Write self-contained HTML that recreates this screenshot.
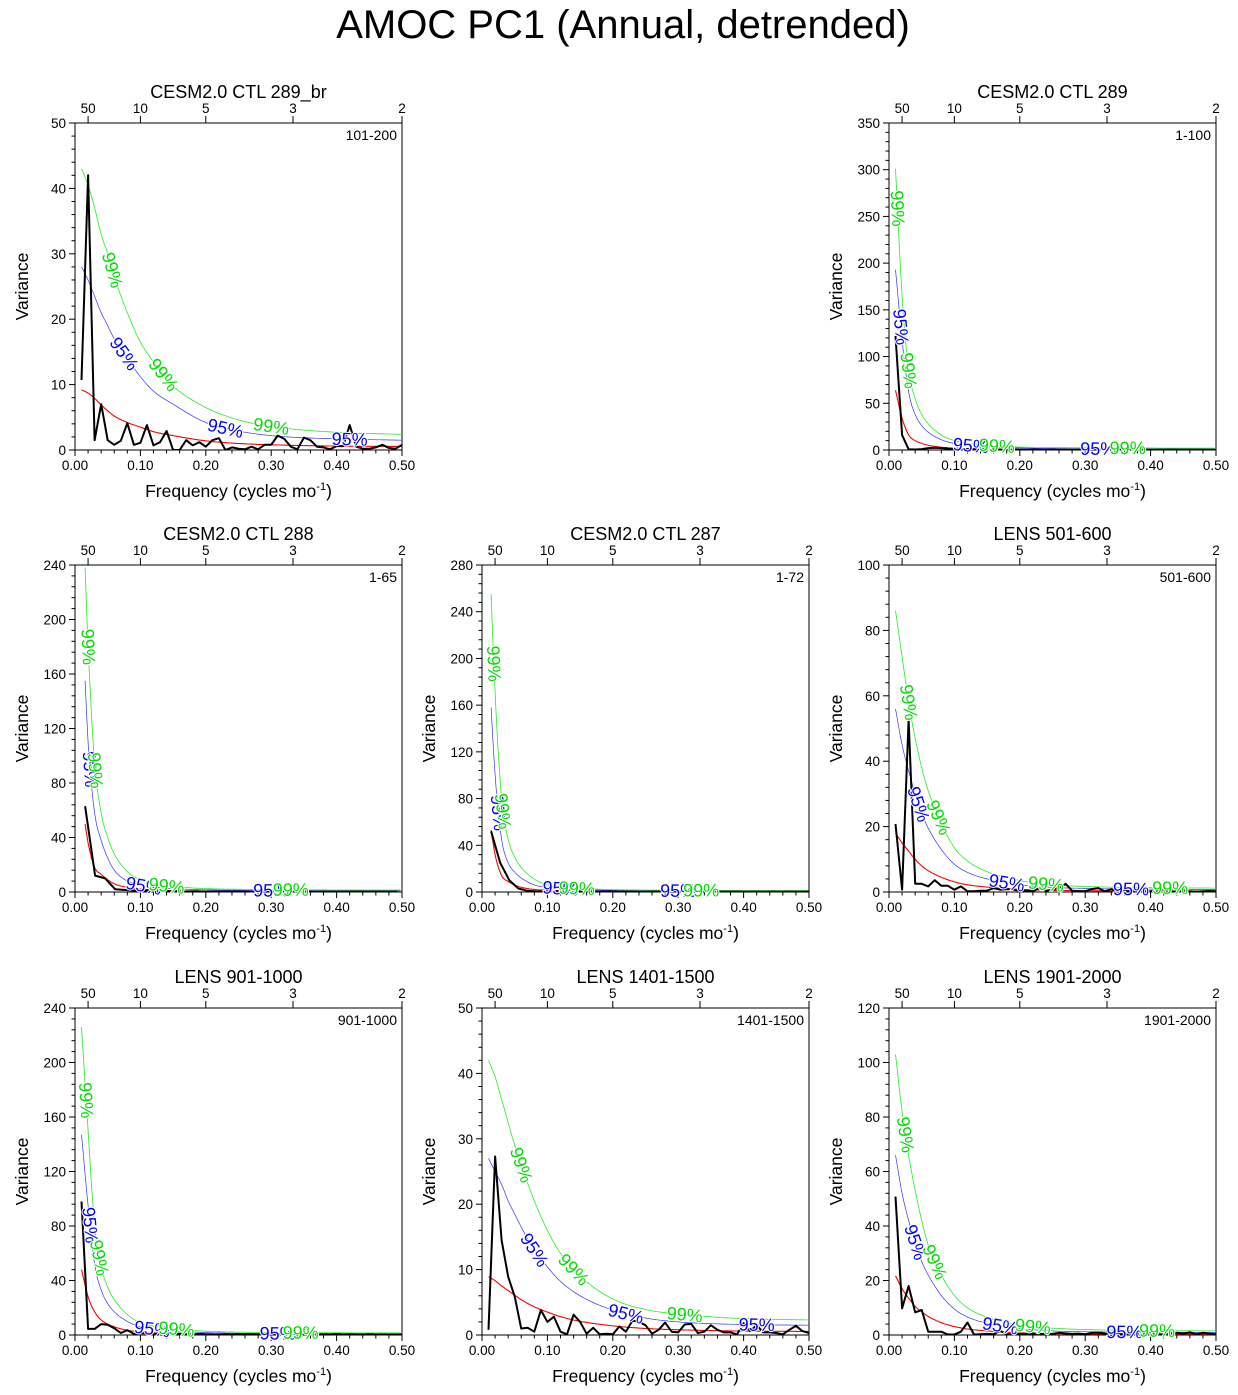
<!DOCTYPE html>
<html><head><meta charset="utf-8">
<style>
html,body{margin:0;padding:0;background:#fff;}
svg{display:block;font-family:"Liberation Sans",Arial,sans-serif;}
</style></head>
<body>
<svg id="fig" width="1238" height="1395" viewBox="0 0 1238 1395" xmlns="http://www.w3.org/2000/svg">
<text x="623" y="38" font-size="40" text-anchor="middle">AMOC PC1 (Annual, detrended)</text>
</svg>
<script>
// curve sample frequencies (first replaced by 1/N)
const curveFreq = [0,0.02,0.03,0.04,0.05,0.06,0.08,0.1,0.12,0.15,0.2,0.25,0.3,0.4,0.5];
const periodTicks = [50,10,5,3,2];
const xTicks = [0,0.1,0.2,0.3,0.4,0.5];

const titles = ["CESM2.0 CTL 289_br","CESM2.0 CTL 289","CESM2.0 CTL 288","CESM2.0 CTL 287","LENS 501-600","LENS 901-1000","LENS 1401-1500","LENS 1901-2000"];
const tags = ["101-200","1-100","1-65","1-72","501-600","901-1000","1401-1500","1901-2000"];
const recordLen = [100,100,65,72,100,100,100,100];
const yMax = [50,350,240,280,100,240,50,120];
const yStep = [10,50,40,40,20,40,10,20];

const redA=[9.2,8.7,7.9,6.9,6.0,5.2,4.2,3.5,2.8,2.2,1.4,1.0,0.8,0.6,0.55];
const blueA=[28,26,23.5,21,19,17,14,11.2,9,7,4.2,2.9,2.2,1.7,1.5];
const greenA=[43,40.5,37,33,30,26.5,21,16.5,13.5,9.8,6.5,4.6,3.6,2.7,2.4];
const specA=[10.7,42,1.5,7,1.5,0.8,1.4,4.1,0.8,1.1,3.8,0.7,1.2,2.9,0,0,1.5,0.7,1.2,0.5,1.5,1.8,0,0.4,0.2,0.1,0.5,0.1,0.8,0.8,2.2,1.7,0.5,0.1,1.9,1.5,0.5,0.4,0.1,0.6,0.6,3.8,0.5,0.2,0.2,0.4,0.8,0.3,0.2,0.8];

const redB=[64,34,16,10,7,5,3,2,1.5,1.0,0.6,0.4,0.35,0.3,0.3];
const blueB=[193,118,62,38,26,19,11,7,5,3.5,2.2,1.6,1.3,1.1,1.0];
const greenB=[301,165,85,55,38,28,16,10,7,5,3.2,2.6,2.3,2.1,2];
const specB=[122,16,0.7,0.5,1,2,2.5,2,1.5,1,1.5,1,0.8,0.5,0.6,0.4,0.5,0.3,0.6,0.4,0.3,0.5,0.4,0.3,0.5,0.3,0.4,0.3,0.2,0.4,0.3,0.2,0.4,0.3,0.2,0.3,0.4,0.2,0.3,0.2,0.3,0.2,0.4,0.3,0.2,0.3,0.2,0.3,0.2,0.3];

const redC=[50,36,18,13,9,6,3.5,2.2,1.5,1.0,0.6,0.45,0.4,0.35,0.35];
const blueC=[155,110,58,38,25,16,8,5,3.5,2.5,1.6,1.3,1.1,1.0,1.0];
const greenC=[238,180,95,58,40,28,15,9,6,4,2.5,2,1.7,1.5,1.5];
const specC=[63,12,10,2,1.5,1,1,0.8,0.5,0.6,0.4,0.5,0.3,0.4,0.3,0.4,0.3,0.2,0.4,0.3,0.2,0.3,0.4,0.2,0.3,0.2,0.3,0.4,0.2,0.3,0.2,0.3];

const redD=[53,32,14,9,6,4,2.2,1.5,1.1,0.8,0.5,0.4,0.35,0.3,0.3];
const blueD=[158,100,45,25,17,12,6,4,3,2.2,1.4,1.1,1.0,0.9,0.9];
const greenD=[255,170,80,45,30,21,11,6,4,3,2,1.7,1.5,1.3,1.3];
const specD=[52,25,10,3,1,0.5,0.4,0.6,0.3,0.4,0.6,0.4,0.3,0.5,0.3,0.4,0.3,0.2,0.4,0.3,0.2,0.3,0.4,0.2,0.3,0.2,0.3,0.4,0.2,0.3,0.2,0.3,0.2,0.3,0.2,0.3];

const redE=[18,15,12.5,10,8,6.5,4.5,3.1,2.2,1.5,0.8,0.5,0.4,0.3,0.3];
const blueE=[56,45,37,30,24,19.5,13,8.5,6,4.0,2.2,1.4,1.1,0.85,0.8];
const greenE=[86,72,58,47,38,31,21,13.5,9.5,6.2,3.5,2.2,1.7,1.3,1.2];
const specE=[20.8,0.7,52.7,2.5,2.5,1.7,3.6,1.9,1.9,0.7,1.7,0.2,0.2,0.4,0.4,1.2,0.7,0.9,0.7,0.4,0.4,0.2,1.2,0.4,0.7,1.2,2.5,0.4,0.2,0.2,0.9,1.2,0.2,0.9,0.2,0.3,0.2,0.5,0.3,0.2,0.4,0.3,0.2,0.1,0.3,0.2,0.1,0.2,0.3,0.2];

const redF=[48,28,17,11,8,6,3.5,2.3,1.6,1.1,0.7,0.5,0.4,0.35,0.35];
const blueF=[147,95,52,33,23,17,10,6,4.3,3,1.8,1.3,1.1,1.0,1.0];
const greenF=[226,150,80,50,35,26,15,9,6.5,4.5,2.8,2.1,1.8,1.6,1.5];
const specF=[98,4.5,4.5,8,7.5,5,1.5,3.5,0.8,1.5,1,0.5,1.5,0.8,0.5,1,0.6,0.4,0.8,0.5,0.6,0.4,0.5,0.3,0.6,0.4,0.5,0.3,0.4,0.6,0.3,0.5,0.4,0.3,0.5,0.4,0.3,0.6,0.4,0.8,0.3,0.5,0.4,0.3,0.5,0.3,0.4,0.3,0.2,0.3];

const redG=[8.9,8.3,7.5,6.8,6.1,5.4,4.3,3.5,2.8,2.1,1.4,1.0,0.8,0.6,0.55];
const blueG=[27,25,23,20.5,18.5,16.5,13,10.4,8.2,6,3.8,2.6,2.0,1.6,1.5];
const greenG=[42,39.5,36,32.5,29,26,20.5,16,12.5,9,5.5,3.9,3.2,2.5,2.3];
const specG=[0.8,27.3,14.5,8.9,5.9,1.0,1.1,0.5,3.8,2.0,2.8,0.5,0.1,3.1,2.0,0.2,1.1,0.1,0.2,0.1,1.3,0.5,2.2,2.0,1.5,0.2,0.8,1.9,0.5,0.4,1.6,1.7,0.3,0.5,1.5,0.8,0.4,0.4,0.1,1.8,0.6,1.5,0.4,0.4,0.3,0.1,0.8,1.4,0.6,0.3];

const redH=[21.7,17,13.5,10.5,8.5,6.8,4.5,3.1,2.2,1.5,0.8,0.5,0.4,0.35,0.3];
const blueH=[66,52,42,34,27,22,14.5,9.5,6.6,4.3,2.4,1.5,1.2,1.0,0.9];
const greenH=[103,82,66,53,42,33,22,14.5,10,6.5,3.7,2.5,2.0,1.6,1.5];
const specH=[50.8,9.8,18,8.3,9.2,1.2,1.2,1.2,0.2,0.2,1.2,4.6,0.2,0.3,0.4,0.3,1.5,0.3,0.5,0.3,0.4,0.6,0.3,0.5,0.4,0.8,0.6,0.4,0.5,0.3,0.8,0.9,0.5,0.3,0.4,0.2,0.3,0.5,0.3,0.4,0.2,0.3,0.4,0.8,0.5,1.0,0.3,0.8,0.5,0.3];

const greenLabelF=[[0.057,0.135,0.30],[0.013,0.03,0.165,0.365],[0.02,0.031,0.14,0.33],[0.018,0.032,0.145,0.335],[0.03,0.076,0.24,0.43],[0.017,0.037,0.155,0.345],[0.06,0.14,0.31],[0.025,0.07,0.22,0.41]];
const blueLabelF=[[0.075,0.23,0.42],[0.018,0.125,0.32],[0.023,0.105,0.3],[0.025,0.12,0.3],[0.045,0.18,0.37],[0.023,0.118,0.31],[0.08,0.22,0.42],[0.04,0.17,0.36]];

const reds=[redA,redB,redC,redD,redE,redF,redG,redH];
const blues=[blueA,blueB,blueC,blueD,blueE,blueF,blueG,blueH];
const greens=[greenA,greenB,greenC,greenD,greenE,greenF,greenG,greenH];
const specs=[specA,specB,specC,specD,specE,specF,specG,specH];

const origins=[[75,123],[889,123],[75,565],[482,565],[889,565],[75,1008],[482,1008],[889,1008]];
const W=327,H=327;
const NS="http://www.w3.org/2000/svg";
const svg=document.getElementById('fig');
function mk(tag,attrs,parent){const e=document.createElementNS(NS,tag);for(const k in attrs)e.setAttribute(k,attrs[k]);(parent||svg).appendChild(e);return e;}

function mono(xs,ys){
  const n=xs.length,d=[],m=new Array(n);
  for(let i=0;i<n-1;i++)d.push((ys[i+1]-ys[i])/(xs[i+1]-xs[i]));
  m[0]=d[0];m[n-1]=d[n-2];
  for(let i=1;i<n-1;i++)m[i]=(d[i-1]*d[i]<=0)?0:(d[i-1]+d[i])/2;
  for(let i=0;i<n-1;i++){if(d[i]===0){m[i]=0;m[i+1]=0;continue;}const a=m[i]/d[i],b=m[i+1]/d[i],s=a*a+b*b;if(s>9){const t=3/Math.sqrt(s);m[i]=t*a*d[i];m[i+1]=t*b*d[i];}}
  return function(x){let i=0;while(i<n-2&&x>xs[i+1])i++;const h=xs[i+1]-xs[i],t=(x-xs[i])/h,t2=t*t,t3=t2*t;
    return (2*t3-3*t2+1)*ys[i]+(t3-2*t2+t)*h*m[i]+(-2*t3+3*t2)*ys[i+1]+(t3-t2)*h*m[i+1];};
}

for(let p=0;p<8;p++){
  const [x0,y0]=origins[p];
  const g=mk('g',{});
  
  
  const xs=f=>x0+f/0.5*W;
  const ys=v=>y0+H-v/yMax[p]*H;
  const cp=mk('clipPath',{id:'c'+p},g);mk('rect',{x:x0,y:y0,width:W,height:H},cp);
  const t=mk('text',{x:x0+W/2,y:y0-25,'font-size':18,'text-anchor':'middle'},g);t.textContent=titles[p];
  
  
  const tg=mk('text',{x:x0+W-5,y:y0+17,'font-size':14,'text-anchor':'end'},g);tg.textContent=tags[p];
  
  
  const fr=mk('rect',{x:x0,y:y0,width:W,height:H,fill:'none',stroke:'#000','stroke-width':1},g);
  
  
  const yax=mk('g',{},g);
  
  
  const minor=yStep[p]/5;
  for(let v=0;v<=yMax[p]+1e-9;v+=minor){const yy=ys(v);const major=Math.abs(v/yStep[p]-Math.round(v/yStep[p]))<1e-6;
    mk('line',{x1:x0,x2:x0-(major?6:3.5),y1:yy,y2:yy,stroke:'#000','stroke-width':1},yax);
    if(major){const l=mk('text',{x:x0-9,y:yy+5,'font-size':13.5,'text-anchor':'end'},yax);l.textContent=Math.round(v);}}
  const yt=mk('text',{x:0,y:0,'font-size':17.5,'text-anchor':'middle',transform:`translate(${x0-47},${y0+H/2}) rotate(-90)`},g);yt.textContent='Variance';
  
  
  const xax=mk('g',{},g);
  
  
  for(let k=0;k<=25;k++){const f=k*0.02,xx=xs(f),major=k%5===0;
    mk('line',{x1:xx,x2:xx,y1:y0+H,y2:y0+H+(major?6:3.5),stroke:'#000','stroke-width':1},xax);}
  xTicks.forEach(f=>{const l=mk('text',{x:xs(f),y:y0+H+20,'font-size':13.5,'text-anchor':'middle'},xax);l.textContent=f.toFixed(2);});
  const xt=mk('text',{x:x0+W/2,y:y0+H+47,'font-size':17.5,'text-anchor':'middle'},g);
  xt.innerHTML='Frequency (cycles mo<tspan font-size="11" dy="-7">-1</tspan><tspan dy="7">)</tspan>';
  
  
  const tax=mk('g',{},g);
  
  
  periodTicks.forEach(per=>{const xx=xs(1/per);mk('line',{x1:xx,x2:xx,y1:y0,y2:y0-7,stroke:'#000','stroke-width':1},tax);
    const l=mk('text',{x:xx,y:y0-10,'font-size':13.5,'text-anchor':'middle'},tax);l.textContent=per;});
  const fq=curveFreq.slice();fq[0]=1/recordLen[p];
  const series=[[reds[p],'#ff0000',1.1,'red-noise-curve',null],[blues[p],'#3333ff',0.7,'conf-95-curve',blueLabelF[p]],[greens[p],'#22ee22',0.8,'conf-99-curve',greenLabelF[p]]];
  const labels=[];
  series.forEach(([vals,col,sw,nm,lf])=>{
    const fn=mono(fq,vals);const pts=[];
    for(let f=fq[0];f<=0.5+1e-9;f+=0.0025)pts.push([xs(f),ys(fn(f))]);
    const pl=mk('polyline',{points:pts.map(q=>q[0].toFixed(1)+','+q[1].toFixed(1)).join(' '),fill:'none',stroke:col,'stroke-width':sw,'clip-path':`url(#c${p})`},g);
    
    
    if(lf){lf.forEach(f=>{const a=[xs(f-0.002),ys(fn(f-0.002))],b=[xs(f+0.002),ys(fn(f+0.002))];
      const ang=Math.atan2(b[1]-a[1],b[0]-a[0])*180/Math.PI;labels.push([xs(f),ys(fn(f)),ang,col==='#3333ff'?'#0000ff':'#00dd00',col==='#3333ff'?'95%':'99%']);});}
  });
  const sp=specs[p];const N=recordLen[p];
  const spts=sp.map((v,i)=>xs((i+1)/N).toFixed(1)+','+ys(v).toFixed(1)).join(' ');
  const sl=mk('polyline',{points:spts,fill:'none',stroke:'#000','stroke-width':2,'stroke-linejoin':'round','clip-path':`url(#c${p})`},g);
  
  
  labels.forEach(([lx,ly,ang,col,txt])=>{
    const l=mk('text',{x:0,y:0,'font-size':18,'text-anchor':'middle',fill:col,stroke:'#fff','stroke-width':2,'paint-order':'stroke',transform:`translate(${lx.toFixed(1)},${ly.toFixed(1)}) rotate(${ang.toFixed(1)}) translate(0,6)`},g);
    l.textContent=txt;
    
    
  });
}
</script>
</body></html>
